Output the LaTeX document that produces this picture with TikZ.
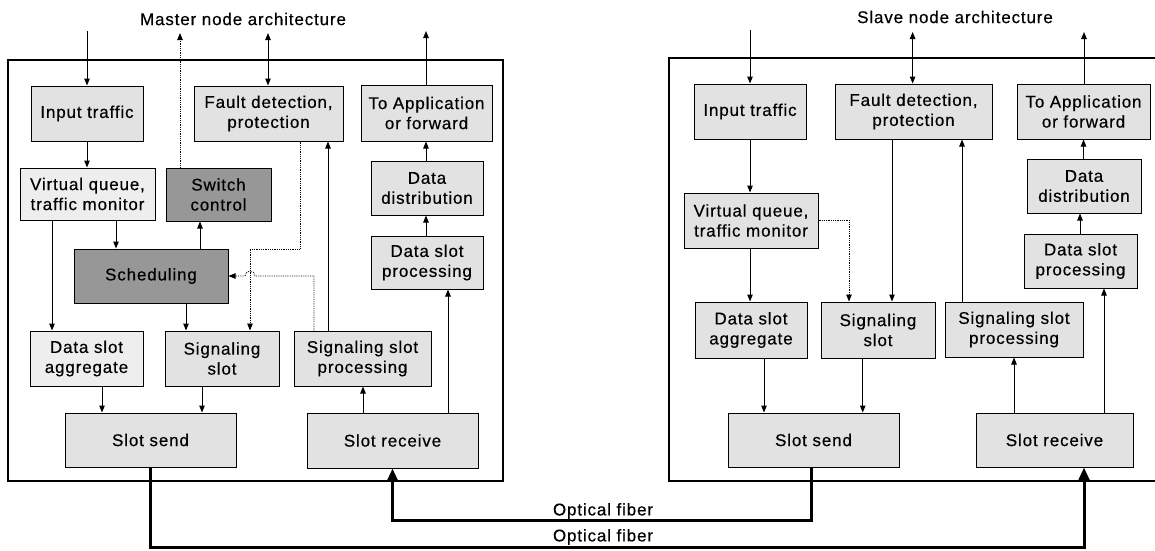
\documentclass[tikz,border=0pt]{standalone}
\usepackage{fontspec}
\setmainfont{Liberation Sans}[LetterSpace=5,FakeBold=0.4]
\usetikzlibrary{arrows.meta}

\definecolor{boxfill}{HTML}{E2E2E2}
\definecolor{boxpale}{HTML}{EEEEEE}
\definecolor{boxdark}{HTML}{979797}

% block: style, name, x1, y1, x2, y2, text  (corner coordinates)
\newcommand\drawblock[7]{%
  \node[#1,minimum width={#5-#3},minimum height={#6-#4}] (#2)
    at ({(#3+#5)/2},{(#4+#6)/2}) {#7};}

\begin{document}
\begin{tikzpicture}[x=1pt,y=-1pt,
  block/.style={draw=black, line width=1pt, fill=boxfill, inner sep=0pt,
    align=center, font=\fontsize{17}{20}\selectfont},
  pale/.style={block, fill=boxpale},
  dark/.style={block, fill=boxdark},
  frame/.style={line width=1.5pt},
  arr/.style={line width=1pt, -{Triangle[length=7pt,width=5.5pt]}},
  dbl/.style={line width=1pt, {Triangle[length=7pt,width=5.5pt]}-{Triangle[length=7pt,width=5.5pt]}},
  faint/.style={arr, line width=0.8pt, densely dotted},
  fiber/.style={line width=3pt, -{Triangle[length=13pt,width=11pt]}},
  title/.style={font=\fontsize{17}{20}\selectfont, inner sep=0pt},
]
\useasboundingbox (0,0) rectangle (1155,550);

% ---------------- master node ----------------
\draw[frame] (8,60) rectangle (503,481);
\node[title] (tM) at (243,19) {Master node architecture};

\drawblock{block}{mIn}{31}{86}{143}{141}{Input traffic}
\drawblock{block}{mFault}{194}{86}{343}{141}{Fault detection,\\protection}
\drawblock{block}{mApp}{361}{85}{492}{141}{To Application\\or forward}
\drawblock{pale}{mVQ}{20}{168}{155}{220}{Virtual queue,\\traffic monitor}
\drawblock{dark}{mSw}{166}{168}{271}{221}{Switch\\control}
\drawblock{block}{mDD}{371}{161}{483}{215}{Data\\distribution}
\drawblock{dark}{mSch}{74}{249}{228}{303}{Scheduling}
\drawblock{block}{mDSP}{371}{236}{483}{289}{Data slot\\processing}
\drawblock{pale}{mDSA}{30}{331}{143}{386}{Data slot\\aggregate}
\drawblock{block}{mSig}{165}{331}{279}{386}{Signaling\\slot}
\drawblock{block}{mSSP}{294}{331}{431}{386}{Signaling slot\\processing}
\drawblock{block}{mSend}{65}{413}{236}{467}{Slot send}
\drawblock{block}{mRecv}{307}{413}{478}{468}{Slot receive}

\coordinate (mInTop) at (87,31);
\coordinate (mSwTop) at (180,33);
\coordinate (mFaultTop) at (268,33);
\coordinate (mAppTop) at (426,31);

\draw[arr] (mInTop) -- (mIn.north -| mInTop);
\draw[arr] (mIn.south -| mInTop) -- (mVQ.north -| mInTop);
\draw[faint] (mSw.north -| mSwTop) -- (mSwTop);
\draw[dbl] (mFaultTop) -- (mFault.north -| mFaultTop);
\draw[arr] (mApp.north -| mAppTop) -- (mAppTop);
\draw[arr] (mDD.north -| mAppTop) -- (mApp.south -| mAppTop);
\draw[arr] (mDSP.north -| mAppTop) -- (mDD.south -| mAppTop);
\draw[arr] (mRecv.north -| 448,0) -- (mDSP.south -| 448,0);
\draw[arr] (mRecv.north -| 363,0) -- (mSSP.south -| 363,0);
\draw[arr] (mSSP.north -| 328,0) -- (mFault.south -| 328,0);
\draw[faint] (mFault.south -| 300,0) |- (250,249) -- (mSig.north -| 250,0);
\draw[faint] (mSSP.north -| 314,0) |- (255,276)
  arc[start angle=0, end angle=-180, radius=5] -- (mSch.east);
\draw[arr] (mVQ.south -| 116,0) -- (mSch.north -| 116,0);
\draw[arr] (mSch.north -| 200,0) -- (mSw.south -| 200,0);
\draw[arr] (mVQ.south -| 52,0) -- (mDSA.north -| 52,0);
\draw[arr] (mSch.south -| 186,0) -- (mSig.north -| 186,0);
\draw[arr] (mDSA.south -| 102,0) -- (mSend.north -| 102,0);
\draw[arr] (mSig.south -| 202,0) -- (mSend.north -| 202,0);

% ---------------- slave node ----------------
\draw[frame] (1155,58) -| (669,481) -- (1155,481);
\node[title] (tS) at (955,17) {Slave node architecture};

\drawblock{block}{sIn}{694}{84}{806}{139}{Input traffic}
\drawblock{block}{sFault}{835}{84}{992}{139}{Fault detection,\\protection}
\drawblock{block}{sApp}{1017}{84}{1150}{139}{To Application\\or forward}
\drawblock{block}{sDD}{1027}{159}{1141}{213}{Data\\distribution}
\drawblock{block}{sDSP}{1024}{234}{1137}{288}{Data slot\\processing}
\drawblock{block}{sVQ}{684}{193}{818}{248}{Virtual queue,\\traffic monitor}
\drawblock{block}{sDSA}{695}{302}{807}{358}{Data slot\\aggregate}
\drawblock{block}{sSig}{821}{302}{935}{358}{Signaling\\slot}
\drawblock{block}{sSSP}{945}{302}{1083}{357}{Signaling slot\\processing}
\drawblock{block}{sSend}{728}{413}{899}{467}{Slot send}
\drawblock{block}{sRecv}{976}{413}{1133}{467}{Slot receive}

\coordinate (sInTop) at (750,30);
\coordinate (sFaultTop) at (912.6,32);
\coordinate (sAppTop) at (1084,32);

\draw[arr] (sInTop) -- (sIn.north -| sInTop);
\draw[arr] (sIn.south -| sInTop) -- (sVQ.north -| sInTop);
\draw[dbl] (sFaultTop) -- (sFault.north -| sFaultTop);
\draw[arr] (sApp.north -| sAppTop) -- (sAppTop);
\draw[arr] (sDD.north -| 1083.5,0) -- (sApp.south -| 1083.5,0);
\draw[arr] (sDSP.north -| 1080,0) -- (sDD.south -| 1080,0);
\draw[arr] (sRecv.north -| 1104,0) -- (sDSP.south -| 1104,0);
\draw[arr] (sRecv.north -| 1014,0) -- (sSSP.south -| 1014,0);
\draw[arr] (sSSP.north -| 962,0) -- (sFault.south -| 962,0);
\draw[arr] (sFault.south -| 892,0) -- (sSig.north -| 892,0);
\draw[faint] (sVQ.east |- 0,220) -| (sSig.north -| 849,0);
\draw[arr] (sVQ.south -| 750,0) -- (sDSA.north -| 750,0);
\draw[arr] (sDSA.south -| 764,0) -- (sSend.north -| 764,0);
\draw[arr] (sSig.south -| 862.7,0) -- (sSend.north -| 862.7,0);

% ---------------- optical fibers ----------------
\draw[fiber] (sSend.south -| 811,0) |- (mRecv.south |- 0,520) -- (mRecv.south);
\draw[fiber] (mSend.south) -- (mSend.south |- 0,547) -| (sRecv.south -| 1084,0);
\node[title] (of1) at (603,511) {Optical fiber};
\node[title] (of2) at (603,537) {Optical fiber};
\end{tikzpicture}
\end{document}
